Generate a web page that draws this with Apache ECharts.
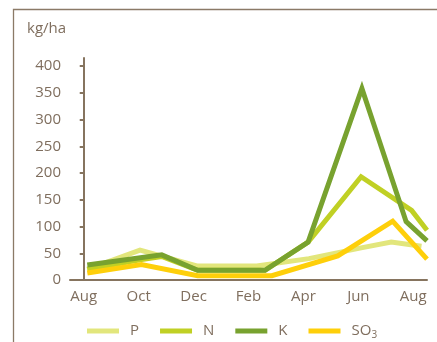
<!DOCTYPE html>
<html>
<head>
<meta charset="utf-8">
<style>
  html, body { margin: 0; padding: 0; background: #ffffff; }
  #chart { width: 437px; height: 342px; }
</style>
<script src="https://cdn.jsdelivr.net/npm/echarts@6/dist/echarts.min.js"></script>
</head>
<body>
<div id="chart"></div>
<script>
// Month labels along the bottom (August to August)
const months = ['Aug', 'Sep', 'Oct', 'Nov', 'Dec', 'Jan', 'Feb', 'Mar', 'Apr', 'May', 'Jun', 'Jul', 'Aug'];
const yTicks = [0, 50, 100, 150, 200, 250, 300, 350, 400];

// Nutrient uptake, kg/ha; "At" arrays give the time of each reading in months since August
const pAt = [0.13, 2.05, 4.15, 6.3, 8.2, 10.1, 11.2, 12.3];
const pValues = [20, 56, 26, 26, 40, 60, 71, 63];

const nAt = [0.13, 2.05, 2.84, 4.15, 6.6, 8.17, 10.1, 11.94, 12.5];
const nValues = [20, 38, 44, 18, 18, 71, 193, 130, 93];

const kAt = [0.13, 2.84, 4.15, 6.6, 8.17, 10.13, 11.74, 12.5];
const kValues = [28, 47, 18, 18, 71, 358, 109, 73];

const so3At = [0.13, 2.1, 4.15, 6.85, 9.25, 11.25, 12.5];
const so3Values = [13, 29, 8, 8, 45, 110, 39];

const seriesNames = ['P', 'N', 'K', 'SO3'];
const seriesColors = ['#e2e67c', '#c0d024', '#78a22f', '#fecf0a'];

const textColor = '#7f6e5e';
const axisColor = '#86745f';
const fontFamily = "'Open Sans', sans-serif";

function pairs(at, values) {
  return at.map((t, i) => [t, values[i]]);
}

const seriesData = [pairs(pAt, pValues), pairs(nAt, nValues), pairs(kAt, kValues), pairs(so3At, so3Values)];

const chart = echarts.init(document.getElementById('chart'), null, { renderer: 'canvas' });

chart.setOption({
  animation: false,
  backgroundColor: '#ffffff',
  textStyle: { fontFamily: fontFamily },
  grid: { left: 70, right: 10, top: 58, bottom: 62, containLabel: false },
  graphic: [
    {
      type: 'polyline',
      shape: { points: [[13.5, 342], [13.5, 9.5], [437, 9.5]] },
      style: { stroke: '#8b7a67', lineWidth: 1.3, fill: null },
      silent: true
    },
    {
      type: 'text',
      left: 27,
      top: 21,
      style: { text: 'kg/ha', fill: textColor, font: "15px 'Open Sans', sans-serif" },
      silent: true
    }
  ],
  legend: {
    left: 82,
    top: 316,
    itemWidth: 32,
    itemHeight: 5,
    itemGap: 21,
    icon: 'rect',
    data: seriesNames.map((n, i) => ({ name: n, itemStyle: { color: seriesColors[i] } })),
    formatter: function (name) {
      return name === 'SO3' ? '{b|SO}{s|3}' : '{b|' + name + '}';
    },
    textStyle: {
      color: textColor,
      fontFamily: fontFamily,
      fontSize: 15,
      padding: [0, 0, 0, 6],
      rich: {
        b: { fontSize: 15, color: textColor, fontFamily: fontFamily, lineHeight: 18 },
        s: { fontSize: 10, color: textColor, fontFamily: fontFamily, lineHeight: 18, verticalAlign: 'bottom', padding: [9, 0, 0, 0] }
      }
    }
  },
  xAxis: [
    {
      type: 'category',
      data: months,
      boundaryGap: true,
      axisLine: { show: true, lineStyle: { color: axisColor, width: 2 } },
      axisTick: { show: false },
      axisLabel: { interval: 1, color: textColor, fontSize: 15, fontFamily: fontFamily, margin: 9 },
      splitLine: { show: false }
    },
    {
      type: 'value',
      min: -0.5,
      max: 12.5,
      show: false
    }
  ],
  yAxis: {
    type: 'value',
    min: 0,
    max: 415,
    axisLine: { show: true, lineStyle: { color: axisColor, width: 2 } },
    axisTick: { show: true, length: 4, inside: false, customValues: yTicks, lineStyle: { color: axisColor, width: 2 } },
    axisLabel: { color: textColor, fontSize: 15, fontFamily: fontFamily, margin: 9, customValues: yTicks },
    splitLine: { show: false }
  },
  series: seriesNames.map((name, i) => ({
    name: name,
    type: 'line',
    xAxisIndex: 1,
    data: seriesData[i],
    showSymbol: false,
    symbol: 'none',
    smooth: false,
    color: seriesColors[i],
    lineStyle: { color: seriesColors[i], width: 5, cap: 'butt', join: 'miter', miterLimit: 10 },
    emphasis: { disabled: true },
    z: 2 + i
  }))
});
</script>
</body>
</html>
